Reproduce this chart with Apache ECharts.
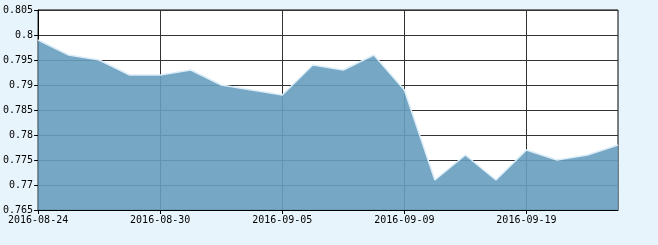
<!DOCTYPE html>
<html><head><meta charset="utf-8">
<script src="https://cdn.jsdelivr.net/npm/echarts@6/dist/echarts.min.js"></script>
<style>html,body{margin:0;padding:0;background:#e8f4fb;}#c{width:658px;height:245px;}</style>
</head><body><div id="c"></div>
<script>
const categories = ['2016-08-24','2016-08-25','2016-08-26','2016-08-29','2016-08-30','2016-08-31','2016-09-01','2016-09-02','2016-09-05','2016-09-06','2016-09-07','2016-09-08','2016-09-09','2016-09-12','2016-09-13','2016-09-14','2016-09-19','2016-09-20','2016-09-21','2016-09-22'];
const values = [0.799,0.796,0.795,0.792,0.792,0.793,0.790,0.789,0.788,0.794,0.793,0.796,0.789,0.771,0.776,0.771,0.777,0.775,0.776,0.778];
const yTicks = [0.765,0.77,0.775,0.78,0.785,0.79,0.795,0.8,0.805];

const font = '"DejaVu Sans Mono", "Liberation Mono", monospace';
const chart = echarts.init(document.getElementById('c'), null, {renderer:'canvas'});
chart.setOption({
  backgroundColor: '#e8f4fb',
  animation: false,
  grid: {left:38, right:40, top:10, bottom:35, show:true, backgroundColor:'#fff', borderColor:'#000', borderWidth:1},
  xAxis: {
    type:'category', data:categories, boundaryGap:false,
    axisLine:{show:true, lineStyle:{color:'#000', width:1}},
    axisTick:{show:true, interval:3, length:4, lineStyle:{color:'#000'}},
    axisLabel:{interval:3, color:'#000', fontFamily:font, fontSize:10, margin:5},
    splitLine:{show:true, interval:3, lineStyle:{color:'#333', width:1}}
  },
  yAxis: {
    type:'value', min:yTicks[0], max:yTicks[yTicks.length-1], interval:0.005,
    axisLine:{show:true, lineStyle:{color:'#000', width:1}},
    axisTick:{show:true, length:4, lineStyle:{color:'#000'}},
    axisLabel:{color:'#000', fontFamily:font, fontSize:10, margin:5, formatter:v=>String(+v.toFixed(3))},
    splitLine:{show:true, lineStyle:{color:'#333', width:1}}
  },
  series: [{
    type:'line', data:values, symbol:'none', smooth:false,
    lineStyle:{color:'#dcedf7', width:1.5},
    areaStyle:{color:'rgb(103,159,192)', opacity:0.9, origin:'start'}
  }]
});
</script></body></html>
